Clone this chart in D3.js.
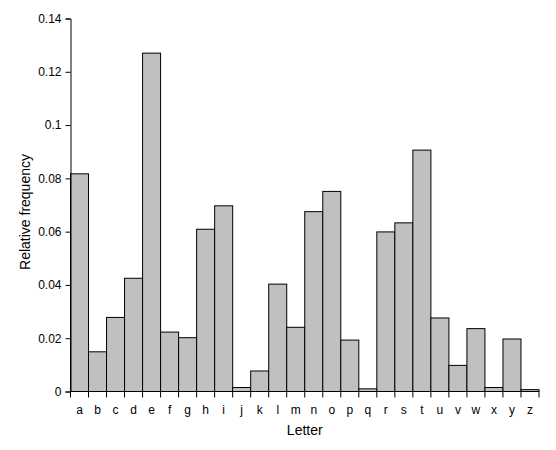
<!DOCTYPE html>
<html><head><meta charset="utf-8">
<script src="https://cdn.jsdelivr.net/npm/d3@7"></script>
<style>body{margin:0;background:#fff}text{font-family:"Liberation Sans",Arial,sans-serif;fill:#000}</style>
</head><body>
<script>
// letter frequency histogram
var letters = "abcdefghijklmnopqrstuvwxyz".split("");
var freq = [0.0817,0.0149,0.0278,0.0425,0.1270,0.0223,0.0202,0.0609,0.0697,0.0015,
            0.0077,0.0403,0.0241,0.0675,0.0751,0.0193,0.0010,0.0599,0.0633,0.0906,
            0.0276,0.0098,0.0236,0.0015,0.0197,0.0007];
var yTicks = [0,0.02,0.04,0.06,0.08,0.1,0.12,0.14];

var w = 556, h = 450;
var padL = 70.5, padR = 539, padT = 18.5, padB = 391.5;

var svg = d3.select("body").append("svg").attr("width", w).attr("height", h);

var x = d3.scaleBand().domain(letters).range([padL, padR]).padding(0);
var y = d3.scaleLinear().domain([0, 0.14]).range([padB, padT]);

// bars
svg.selectAll("rect").data(letters).enter().append("rect")
  .attr("x", function(d){ return x(d); })
  .attr("width", x.bandwidth())
  .attr("y", function(d,i){ return y(freq[i]); })
  .attr("height", function(d,i){ return padB - y(freq[i]); })
  .attr("fill", "#c0c0c0")
  .attr("stroke", "#000")
  .attr("stroke-width", 1);

// y axis
var ya = svg.append("g").attr("transform", "translate(" + padL + ",0)")
  .call(d3.axisLeft(y).tickValues(yTicks).tickSize(5).tickPadding(4)
        .tickFormat(function(d){ return String(+d.toFixed(2)); }));
ya.selectAll("text").attr("font-size", "12px").attr("font-family", "Liberation Sans, Arial, sans-serif");
ya.selectAll("line,path").attr("stroke", "#000");

// x axis: ticks at band edges
var xa = svg.append("g").attr("transform", "translate(0," + padB + ")");
xa.append("line").attr("x1", padL).attr("x2", padR).attr("stroke", "#000");
var edges = letters.map(function(d){ return x(d); }).concat([padR]);
xa.selectAll("line.t").data(edges).enter().append("line").attr("class","t")
  .attr("x1", function(d){ return d; }).attr("x2", function(d){ return d; })
  .attr("y1", 0).attr("y2", 6).attr("stroke", "#000");
xa.selectAll("text").data(letters).enter().append("text")
  .attr("x", function(d){ return x(d) + x.bandwidth()/2; })
  .attr("y", 22).attr("text-anchor", "middle").attr("font-size", "12px")
  .text(function(d){ return d; });

// titles
svg.append("text").attr("x", (padL + padR)/2).attr("y", 435)
  .attr("text-anchor", "middle").attr("font-size", "14px").text("Letter");
svg.append("text").attr("transform", "translate(30,212) rotate(-90)")
  .attr("text-anchor", "middle").attr("font-size", "14px").text("Relative frequency");
</script>
</body></html>
